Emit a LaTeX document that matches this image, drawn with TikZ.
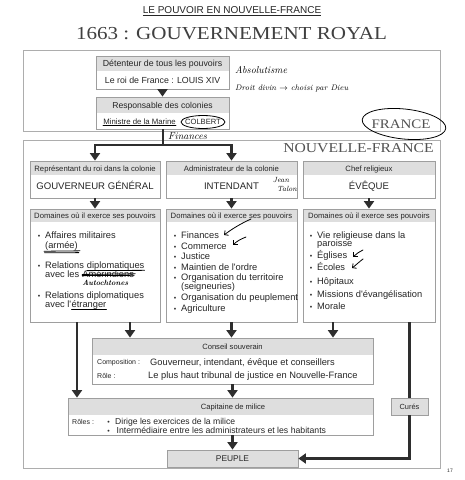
\documentclass[tikz,border=0pt]{standalone}
\usepackage{fontspec}
\newfontfamily\sans{Liberation Sans}
\newfontfamily\wserif[FakeStretch=1.15]{Liberation Serif}
\usetikzlibrary{arrows.meta,fit,calc}
\newcommand\fs[1]{\fontsize{#1}{#1}\selectfont}
\newcommand\mkbox[6]{\fill[hd] (#2,#3) rectangle (#4,#6); \node[bx, fit={(#2,#3) (#4,#5)}] (#1) {};}
\begin{document}
\begin{tikzpicture}[x=1pt,y=-1pt,
 bx/.style={draw=black!38, line width=0.8pt, inner sep=0pt},
 hd/.style={fill=black!13},
 frm/.style={draw=black!32, line width=0.9pt, inner sep=0pt},
 arr/.style={draw=black!82, line width=2.6pt, -{Triangle[width=10pt,length=7.5pt]}},
 trunk/.style={draw=black!82, line width=2.6pt},
 lab/.style={inner sep=0pt, text=black!85, text height=0.72em, text depth=0.21em},
 it/.style={inner sep=0pt, anchor=base west, font=\sans\fs{9.3}, text=black!85},
 bul/.style={inner sep=0pt, anchor=base, font=\sans\fs{7}, text=black!80},
 hand/.style={inner sep=0pt, text=black},
 ink/.style={draw=black, line width=0.8pt, line cap=round},
 inka/.style={ink, -{Straight Barb[length=3pt,width=6pt]}}
]
\useasboundingbox (0,0) rectangle (465,480);
\fill[white] (0,0) rectangle (465,480);

% titles
\node[lab, font=\sans\fs{10}] (ttl) at (232,11) {\underline{LE POUVOIR EN NOUVELLE-FRANCE}};
\node[lab, font=\wserif\fs{18.3}, text=black!75] (gr) at (231.5,37) {1663 : GOUVERNEMENT ROYAL};

% frames
\node[frm, fit={(23,50) (440,131)}] (fr) {};
\node[frm, fit={(23,140) (440,468)}] (nf) {};
\node[lab, font=\wserif\fs{13}, text=black!68] (frt) at (401,126) {FRANCE};
\node[lab, font=\wserif\fs{13.6}, text=black!68] (nft) at (358.5,150) {NOUVELLE-FRANCE};

% boxes
\mkbox{det}{96}{56}{229}{89}{71}
\mkbox{resp}{96}{97}{229}{129}{113}
\mkbox{gov}{30}{161}{160}{198}{175}
\mkbox{int}{166}{161}{297}{198}{175}
\mkbox{eve}{303}{161}{435}{198}{175}
\mkbox{dom1}{30}{209}{160}{322}{222}
\mkbox{dom2}{166}{209}{297}{322}{222}
\mkbox{dom3}{303}{209}{435}{322}{222}
\mkbox{cons}{92}{338}{373}{384}{355}
\mkbox{cap}{68}{398}{373}{435}{415}
\node[bx,hd,fit={(391,398) (428,415)}] (cures) {};
\node[bx,hd,fit={(167,450) (298,467)}] (peuple) {};

% box texts
\node[lab, font=\sans\fs{8.8}] (det1) at (162.5,64) {Détenteur de tous les pouvoirs};
\node[lab, font=\sans\fs{8.8}] (det2) at (162.5,80.5) {Le roi de France : LOUIS XIV};
\node[lab, font=\sans\fs{8.6}] (resp1) at (162.5,105.5) {Responsable des colonies};
\node[lab, font=\sans\fs{7.8}] (mm) at (139.5,122) {Ministre de la Marine};
\node[lab, font=\sans\fs{7.6}] (colb) at (203,122) {COLBERT};

\node[lab, font=\sans\fs{7.7}] (gov1) at (95,168.5) {Représentant du roi dans la colonie};
\node[lab, font=\sans\fs{9.6}] (gov2) at (95,187) {GOUVERNEUR GÉNÉRAL};
\node[lab, font=\sans\fs{7.7}] (int1) at (231.5,168.5) {Administrateur de la colonie};
\node[lab, font=\sans\fs{9.6}] (int2) at (231.5,187) {INTENDANT};
\node[lab, font=\sans\fs{7.7}] (eve1) at (369,168.5) {Chef religieux};
\node[lab, font=\sans\fs{9.6}] (eve2) at (369,187) {ÉVÊQUE};

\node[lab, font=\sans\fs{7.7}] (d1h) at (95,215.5) {Domaines où il exerce ses pouvoirs};
\node[lab, font=\sans\fs{7.7}] (d2h) at (231.5,215.5) {Domaines où il exerce ses pouvoirs};
\node[lab, font=\sans\fs{7.7}] (d3h) at (369,215.5) {Domaines où il exerce ses pouvoirs};

% domain 1
\foreach \y [count=\i] in {238.5,268.5,298.5} \node[bul] (b1-\i) at (39,\y) {•};
\node[it] (d1a) at (45,238.5) {Affaires militaires};
\node[it] (d1b) at (45,248.5) {(armée)};
\node[it] (d1c) at (45,268.5) {Relations\ \mbox{}};
\node[it, anchor=base west] (d1c2) at (d1c.base east) {diplomatiques};
\node[it] (d1d) at (45,277.5) {avec les\ \mbox{}};
\node[it, anchor=base west] (d1d2) at (d1d.base east) {Amérindiens};
\node[it] (d1e) at (45,298.5) {Relations diplomatiques};
\node[it] (d1f) at (45,307.5) {avec l'\mbox{}};
\node[it, anchor=base west] (d1f2) at (d1f.base east) {étranger};

% domain 2
\foreach \y [count=\i] in {238.5,249,259.5,270,280.5,300.5,311.5} \node[bul] (b2-\i) at (175,\y) {•};
\node[it] (d2a) at (181,238.5) {Finances};
\node[it] (d2b) at (181,249) {Commerce};
\node[it] (d2c) at (181,259.5) {Justice};
\node[it] (d2d) at (181,270) {Maintien de l'ordre};
\node[it] (d2e) at (181,280.5) {Organisation du territoire};
\node[it] (d2f) at (181,289.5) {(seigneuries)};
\node[it] (d2g) at (181,300.5) {Organisation du peuplement};
\node[it] (d2h) at (181,311.5) {Agriculture};

% domain 3
\foreach \y [count=\i] in {238.3,258.3,270.3,284.3,297.3,309.3} \node[bul] (b3-\i) at (311,\y) {•};
\node[it] (d3a) at (317,238.3) {Vie religieuse dans la};
\node[it] (d3b) at (317,246.3) {paroisse};
\node[it] (d3c) at (317,258.3) {Églises};
\node[it] (d3d) at (317,270.3) {Écoles};
\node[it] (d3e) at (317,284.3) {Hôpitaux};
\node[it] (d3f) at (317,297.3) {Missions d'évangélisation};
\node[it] (d3g) at (317,309.3) {Morale};

% conseil
\node[lab, font=\sans\fs{7.6}] (c1) at (232.5,346.5) {Conseil souverain};
\node[inner sep=0pt, anchor=base west, font=\sans\fs{7}, text=black!85] (c2) at (97,364.5) {Composition :};
\node[it] (c3) at (150,365.3) {Gouverneur, intendant, évêque et conseillers};
\node[inner sep=0pt, anchor=base west, font=\sans\fs{7}, text=black!85] (c4) at (97,378) {Rôle :};
\node[it] (c5) at (148,378.3) {Le plus haut tribunal de justice en Nouvelle-France};

% capitaine
\node[lab, font=\sans\fs{7.6}] (k1) at (233,406.5) {Capitaine de milice};
\node[inner sep=0pt, anchor=base west, font=\sans\fs{7}, text=black!85] (k2) at (72,424) {Rôles :};
\node[bul] (kb1) at (108.5,424) {•};
\node[bul] (kb2) at (108.5,433) {•};
\node[it, font=\sans\fs{8.6}] (k3) at (115,424) {Dirige les exercices de la milice};
\node[it, font=\sans\fs{8.7}] (k4) at (116.5,433) {Intermédiaire entre les administrateurs et les habitants};

\node[lab, font=\sans\fs{7.4}] (curt) at (cures.center) {Curés};
\node[lab, font=\sans\fs{8.4}] (peut) at (peuple.center) {PEUPLE};
\node[lab, font=\sans\fs{5}] (pg) at (450,470) {17};

% connectors
\draw[arr] (det.south) -- (resp.north);
\coordinate (sp) at (163,145);
\draw[trunk] (sp |- resp.south) -- (sp);
\draw[arr] (sp) -| (gov.north);
\draw[arr] (sp) -| (int.north);
\draw[arr] (gov.south) -- (dom1.north);
\draw[arr] (int.south) -- (dom2.north);
\draw[arr] (eve.south) -- (dom3.north);
\coordinate (xa) at (130,0);
\coordinate (xb) at (333,0);
\coordinate (xg) at (77,0);
\draw[arr] (xa |- dom1.south) -- (xa |- cons.north);
\draw[arr] (dom2.south) -- (dom2.south |- cons.north);
\draw[arr] (xb |- dom3.south) -- (xb |- cons.north);
\draw[arr] (xg |- dom1.south) -- (xg |- cap.north);
\draw[arr] (cons.south) -- (cons.south |- cap.north);
\draw[arr] (cons.south |- cap.south) -- (peuple.north);
\draw[trunk] (cures.north |- dom3.south) -- (cures.north);
\draw[arr] (cures.south) |- (peuple.east);

% handwritten annotations
\node[hand, anchor=west, font=\itshape\fs{10}] (abs) at (235,70) {Absolutisme};
\node[hand, anchor=west, font=\itshape\fs{8}] (dd) at (235,88) {Droit divin $\rightarrow$ choisi par Dieu};
\node[hand, anchor=west, font=\itshape\fs{10}] (fin) at (168,136) {Finances};
\node[hand, font=\itshape\fs{7.5}] (jean) at (281,180) {Jean};
\node[hand, font=\itshape\fs{7.5}] (talon) at (287,188.5) {Talon};
\node[hand, anchor=north west, font=\bfseries\itshape\fs{7.5}] (auto) at ($(d1d2.south west)+(0,2)$) {Autochtones};
\draw[ink] (colb.center) ellipse [x radius=22, y radius=6.5];
\draw[ink, rotate around={-6:(404,124)}] (404,124) ellipse [x radius=42, y radius=15];
\draw[ink] ($(mm.base west)+(0,1.2)$) -- ($(mm.base east)+(0,1.2)$);
\draw[ink] ($(d1b.south west)+(-1,0.6)$) -- ($(d1b.south east)+(2,0.2)$);
\draw[ink] ($(d1b.south west)+(-0.5,2.2)$) -- ($(d1b.south east)+(1,2)$);
\draw[ink] ($(d1c2.south west)+(0,0)$) -- ($(d1c2.south east)+(0,-0.3)$);
\draw[ink] ($(d1d2.west)+(0,0.3)$) -- ($(d1d2.east)+(1,-0.3)$);
\draw[ink] ($(d1d2.west)+(0,1.5)$) -- ($(d1d2.east)+(0,1.2)$);
\draw[ink] ($(d1f2.south west)+(0,0)$) -- ($(d1f2.south east)+(0,0)$);
\draw[inka] (251,219) .. controls (240,224) and (232,229) .. (224,235);
\draw[inka] (246,237) .. controls (241,239) and (237,241) .. (233,245);
\draw[inka] (363,250) .. controls (359,252) and (356,254) .. (353,257);
\draw[inka] (363,259) .. controls (359,262) and (356,265) .. (352,268);
\end{tikzpicture}
\end{document}
